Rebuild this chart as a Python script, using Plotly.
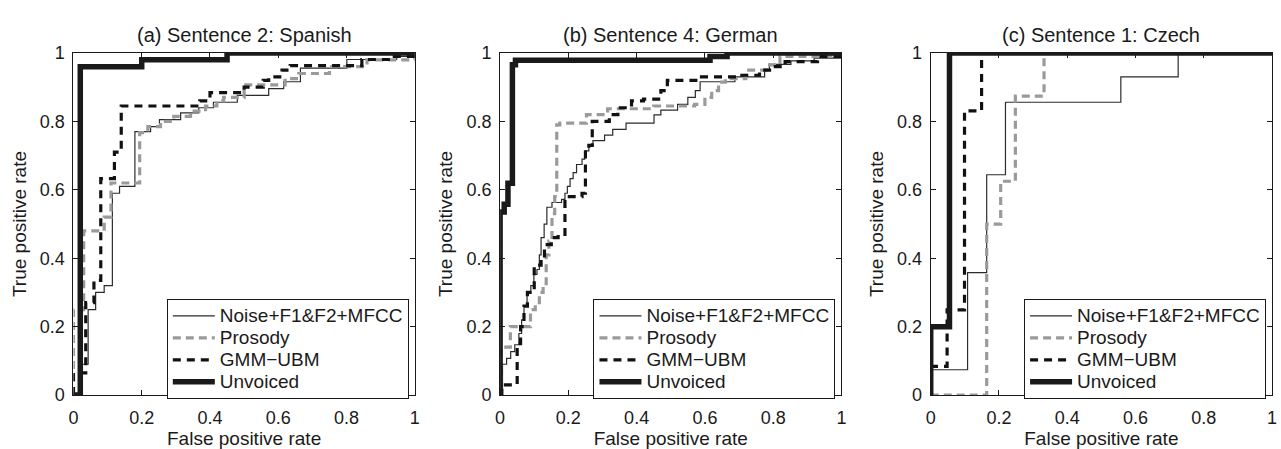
import plotly.graph_objects as go

W, H = 1281, 449

titles = ["(a) Sentence 2: Spanish", "(b) Sentence 4: German", "(c) Sentence 1: Czech"]
series_names = ["Noise+F1&F2+MFCC", "Prosody", "GMM\u2212UBM", "Unvoiced"]
tick_vals = [0, 0.2, 0.4, 0.6, 0.8, 1]
tick_text = ["0", "0.2", "0.4", "0.6", "0.8", "1"]

# ---- Panel (a) Spanish: (fpr, tpr) step points ----
noise_a_x = [0, 0.026, 0.043, 0.065, 0.09, 0.114, 0.135, 0.18, 0.226, 0.252, 0.314, 0.367, 0.41, 0.48, 0.572, 0.616, 0.665, 0.801, 0.947, 1.0]
noise_a_y = [0, 0.09, 0.25, 0.30, 0.32, 0.59, 0.61, 0.77, 0.785, 0.805, 0.825, 0.84, 0.856, 0.876, 0.896, 0.916, 0.956, 0.981, 0.99, 1.0]
pros_a_x = [0, 0.0, 0.03, 0.09, 0.11, 0.194, 0.218, 0.255, 0.294, 0.343, 0.387, 0.42, 0.44, 0.50, 0.62, 0.66, 0.75, 0.86, 1.0]
pros_a_y = [0, 0.25, 0.48, 0.52, 0.62, 0.767, 0.785, 0.80, 0.815, 0.83, 0.845, 0.86, 0.87, 0.907, 0.925, 0.94, 0.96, 0.98, 0.99]
gmm_a_x = [0, 0, 0.036, 0.036, 0.06, 0.08, 0.12, 0.14, 0.37, 0.40, 0.50, 0.556, 0.572, 0.611, 0.635, 0.845, 0.94, 1.0]
gmm_a_y = [0, 0.065, 0.12, 0.27, 0.335, 0.633, 0.71, 0.845, 0.86, 0.884, 0.90, 0.92, 0.93, 0.95, 0.963, 0.981, 0.99, 1.0]
unv_a_x = [0, 0.02, 0.20, 0.45, 1.0]
unv_a_y = [0, 0.96, 0.98, 1.0, 1.0]

# ---- Panel (b) German ----
noise_b_x = [0, 0.007, 0.019, 0.031, 0.043, 0.055, 0.063, 0.07, 0.079, 0.09, 0.099, 0.108, 0.115, 0.12, 0.129, 0.137, 0.152, 0.18, 0.19, 0.197, 0.205, 0.214, 0.224, 0.24, 0.248, 0.26, 0.272, 0.306, 0.33, 0.369, 0.451, 0.471, 0.52, 0.55, 0.572, 0.586, 0.688, 0.775, 0.789, 0.852, 0.92, 1.0]
noise_b_y = [0, 0.09, 0.107, 0.127, 0.147, 0.18, 0.22, 0.26, 0.298, 0.32, 0.353, 0.367, 0.41, 0.46, 0.50, 0.549, 0.563, 0.572, 0.59, 0.61, 0.633, 0.65, 0.674, 0.69, 0.714, 0.73, 0.744, 0.76, 0.777, 0.795, 0.819, 0.833, 0.85, 0.87, 0.89, 0.916, 0.93, 0.949, 0.967, 0.977, 0.985, 1.0]
pros_b_x = [0, 0.003, 0.03, 0.089, 0.103, 0.115, 0.126, 0.135, 0.143, 0.152, 0.16, 0.166, 0.175, 0.253, 0.315, 0.45, 0.57, 0.60, 0.62, 0.64, 0.66, 0.72, 0.78, 0.82, 1.0]
pros_b_y = [0, 0.14, 0.20, 0.25, 0.27, 0.30, 0.32, 0.41, 0.45, 0.53, 0.58, 0.79, 0.795, 0.82, 0.837, 0.845, 0.85, 0.87, 0.89, 0.915, 0.925, 0.95, 0.965, 0.99, 1.0]
gmm_b_x = [0, 0.005, 0.05, 0.06, 0.07, 0.08, 0.10, 0.12, 0.13, 0.15, 0.17, 0.19, 0.24, 0.25, 0.26, 0.27, 0.32, 0.345, 0.385, 0.42, 0.471, 0.49, 0.59, 0.70, 0.76, 0.795, 0.835, 0.93, 1.0]
gmm_b_y = [0, 0.03, 0.15, 0.20, 0.26, 0.30, 0.38, 0.40, 0.44, 0.46, 0.47, 0.58, 0.59, 0.72, 0.73, 0.80, 0.82, 0.84, 0.86, 0.865, 0.89, 0.92, 0.93, 0.935, 0.95, 0.96, 0.975, 0.99, 1.0]
unv_b_x = [0, 0, 0.012, 0.023, 0.036, 0.045, 0.615, 0.665, 1.0]
unv_b_y = [0, 0.535, 0.558, 0.619, 0.966, 0.979, 0.99, 1.0, 1.0]

# ---- Panel (c) Czech ----
noise_c_x = [0, 0.004, 0.108, 0.164, 0.219, 0.557, 0.725, 1.0]
noise_c_y = [0, 0.074, 0.358, 0.644, 0.856, 0.93, 1.0, 1.0]
pros_c_x = [0, 0.164, 0.205, 0.248, 0.332, 1.0]
pros_c_y = [0, 0.5, 0.625, 0.874, 1.0, 1.0]
gmm_c_x = [0, 0, 0.048, 0.099, 0.149, 1.0]
gmm_c_y = [0, 0.084, 0.249, 0.831, 1.0, 1.0]
unv_c_x = [0, 0, 0.055, 1.0]
unv_c_y = [0, 0.2, 1.0, 1.0]

panels = [
    [(noise_a_x, noise_a_y), (pros_a_x, pros_a_y), (gmm_a_x, gmm_a_y), (unv_a_x, unv_a_y)],
    [(noise_b_x, noise_b_y), (pros_b_x, pros_b_y), (gmm_b_x, gmm_b_y), (unv_b_x, unv_b_y)],
    [(noise_c_x, noise_c_y), (pros_c_x, pros_c_y), (gmm_c_x, gmm_c_y), (unv_c_x, unv_c_y)],
]

styles = [
    dict(color="#2b2b2b", width=1.2, dash="solid"),
    dict(color="#9a9a9a", width=3.2, dash="8px,5px"),
    dict(color="#111111", width=3.2, dash="8px,6px"),
    dict(color="#1a1a1a", width=5.5, dash="solid"),
]

FONT = "Arial, Liberation Sans, Helvetica, sans-serif"
INK = "#1a1a1a"

# pixel layout
x_px = [(69, 413), (499, 843), (933, 1277)]
y_top, y_bot = 45, 403
legend_right = [407, 837, 1271]
legend_bottom = 407

fig = go.Figure()
for p, curves in enumerate(panels):
    xa = "x" if p == 0 else f"x{p+1}"
    ya = "y" if p == 0 else f"y{p+1}"
    lg = "legend" if p == 0 else f"legend{p+1}"
    for k, (xs, ys) in enumerate(curves):
        fig.add_trace(go.Scatter(
            x=xs, y=ys, mode="lines", line=dict(shape="hv", **styles[k]),
            name=f'<span style="font-size:19px">{series_names[k]}</span>',
            xaxis=xa, yaxis=ya, legend=lg,
            showlegend=True, hoverinfo="skip"))

layout = dict(
    width=W, height=H, margin=dict(l=0, r=0, t=0, b=0),
    paper_bgcolor="white", plot_bgcolor="white",
    font=dict(family=FONT, size=18, color=INK),
    annotations=[],
)

for p in range(3):
    xs = "xaxis" if p == 0 else f"xaxis{p+1}"
    ys = "yaxis" if p == 0 else f"yaxis{p+1}"
    ax_anchor_y = "y" if p == 0 else f"y{p+1}"
    ax_anchor_x = "x" if p == 0 else f"x{p+1}"
    x0, x1 = x_px[p]
    common = dict(
        range=[0, 1], tickvals=tick_vals, ticktext=tick_text,
        ticks="inside", ticklen=5, tickwidth=1, tickcolor=INK,
        showline=True, linecolor=INK, linewidth=1, mirror="allticks",
        showgrid=False, zeroline=False, fixedrange=True,
        tickfont=dict(family=FONT, size=18, color=INK),
    )
    layout[xs] = dict(common, domain=[x0 / W, x1 / W], anchor=ax_anchor_y,
                      ticklabelstandoff=6,
                      title=dict(text="False positive rate", font=dict(size=19), standoff=1))
    layout[ys] = dict(common, domain=[1 - y_bot / H, 1 - y_top / H], anchor=ax_anchor_x,
                      ticklabelstandoff=4,
                      title=dict(text="True positive rate", font=dict(size=19), standoff=8))
    lg = "legend" if p == 0 else f"legend{p+1}"
    layout[lg] = dict(
        x=legend_right[p] / W, xanchor="right", xref="paper",
        y=1 - legend_bottom / H, yanchor="bottom", yref="paper",
        bgcolor="white", bordercolor=INK, borderwidth=1,
        font=dict(family=FONT, size=14.6, color=INK),
        tracegroupgap=0, itemwidth=42, traceorder="normal",
    )
    layout["annotations"].append(dict(
        text=titles[p], x=(x0 + x1) / 2 / W, y=1 - 26 / H, xref="paper", yref="paper",
        xanchor="center", yanchor="middle", showarrow=False,
        font=dict(family=FONT, size=20, color=INK)))

fig.update_layout(**layout)
fig.write_html("out.html")
